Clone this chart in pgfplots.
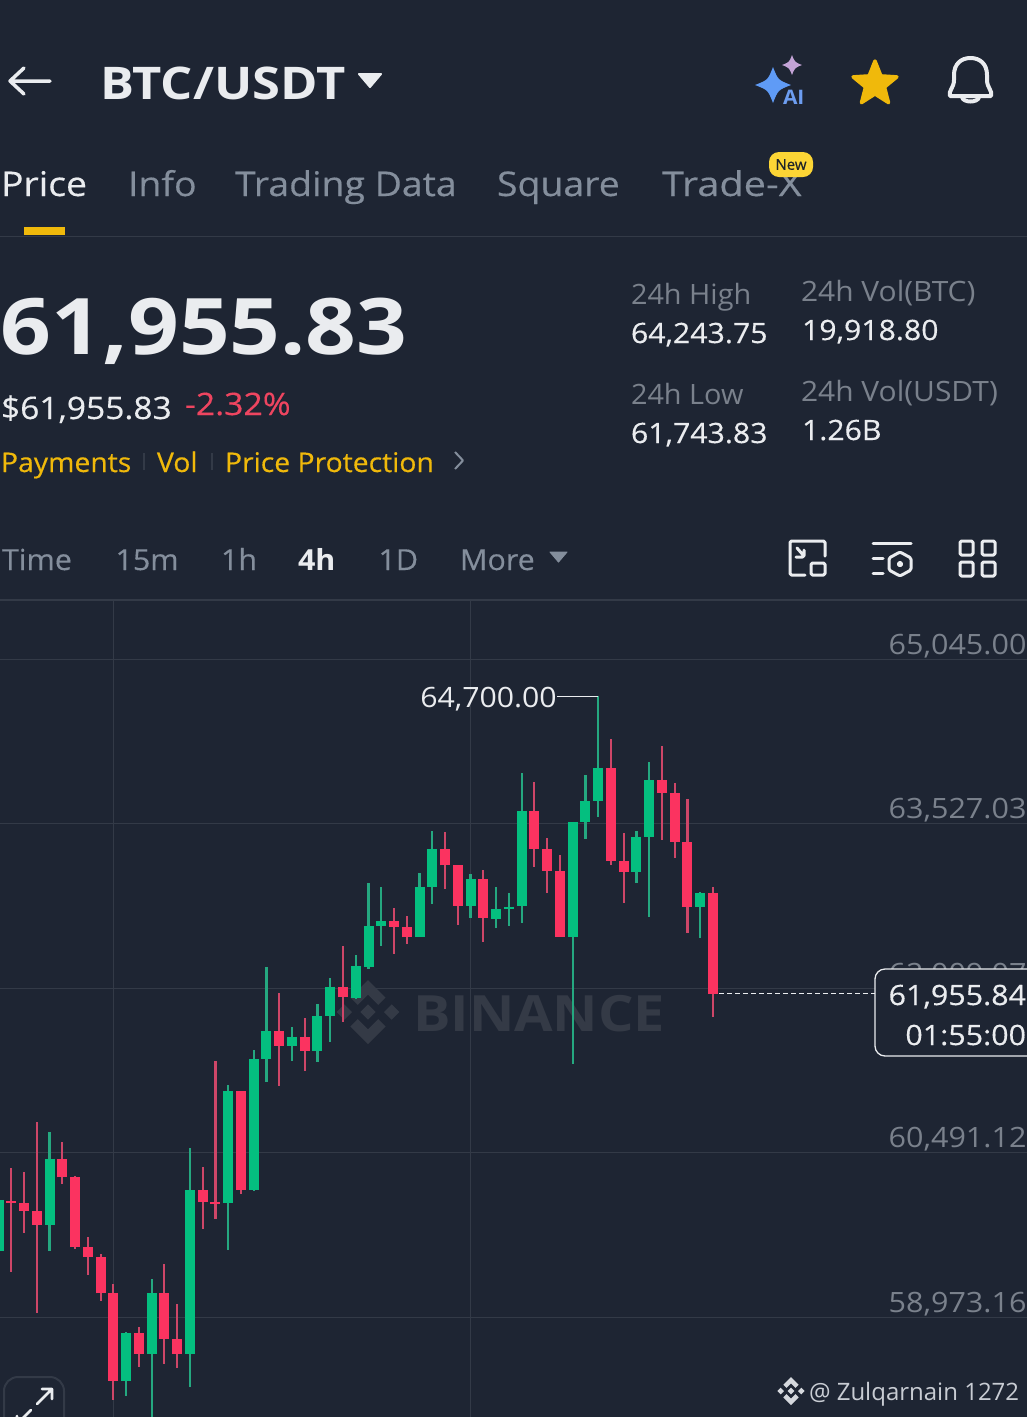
\documentclass[border=0pt]{standalone}
\usepackage{graphicx}
\usepackage{pgfplots}
\usepackage{pgfplotstable}
\usepackage{fontspec}
\pgfplotsset{compat=1.18}
\setmainfont{Open Sans}
\newfontfamily\med[FakeBold=0.35]{Open Sans}
\definecolor{bg}{HTML}{1E2533}
\definecolor{gridc}{HTML}{333A47}
\definecolor{wm}{HTML}{343A46}
\definecolor{wht}{HTML}{EAECEF}
\definecolor{gry}{HTML}{848E9C}
\definecolor{gryb}{HTML}{7A818C}
\definecolor{ylw}{HTML}{F0B90B}
\definecolor{upb}{HTML}{04BF7F}
\definecolor{upw}{HTML}{25A880}
\definecolor{dnb}{HTML}{FB3360}
\definecolor{dnw}{HTML}{CE4668}
\definecolor{txtred}{HTML}{EE4560}
\definecolor{spA}{HTML}{5F9BF6}
\definecolor{spB}{HTML}{C3A3D6}
\definecolor{spC}{HTML}{6D9DF0}
\definecolor{badge}{HTML}{FCD535}
\definecolor{badgetxt}{HTML}{1E2329}
\definecolor{logoc}{HTML}{D5D8DD}
\definecolor{foot}{HTML}{C8CCD3}
\pgfplotstableread{
k o h l c
0 59585 60348 58927 60053
4 59825 60683 59585 60434
10 58385 58838 58247 58823
12 58632 59321 57930 59197
15 58630 60533 58330 60145
18 60028 61117 59591 61056
20 60145 61437 60136 61354
21 61357 62200 61144 61612
23 61477 61652 61338 61560
25 61430 61861 61329 61751
26 61751 62099 61508 62021
28 61914 62314 61908 62212
29 62206 62981 62184 62581
30 62581 62944 62399 62625
33 62477 63073 62477 62944
34 62944 63458 62781 63292
37 62766 63058 62657 63015
39 62650 62938 62565 62738
40 62741 62883 62584 62759
41 62766 63990 62606 63645
45 62480 63541 61305 63541
46 63541 63972 63384 63734
47 63734 64700 63584 64039
50 63079 63460 62981 63405
51 63405 64097 62667 63928
55 62759 62895 62473 62888
}\upT
\pgfplotstableread{
k o h l c
1 60046 60345 59391 60028
2 60028 60308 59745 59954
3 59954 60775 59007 59825
5 60434 60585 60198 60262
6 60262 60277 59603 59622
7 59622 59714 59361 59530
8 59530 59552 59124 59192
9 59192 59278 58207 58385
11 58823 58878 58515 58632
13 59197 59459 58539 58770
14 58770 59093 58505 58630
16 60145 60355 59788 60031
17 60031 61335 59877 60016
19 61056 61060 60105 60145
22 61612 61960 61107 61477
24 61560 61732 61246 61430
27 62021 62397 61698 61923
31 62625 62747 62323 62575
32 62575 62673 62415 62477
35 63292 63446 62925 63141
36 63141 63141 62590 62766
38 63015 63098 62436 62657
42 63645 63912 63128 63292
43 63292 63396 62888 63089
44 63089 63236 62480 62480
48 64039 64306 63144 63184
49 63184 63442 62796 63079
52 63928 64242 63375 63811
53 63811 63898 63211 63359
54 63359 63756 62519 62759
56 62884 62938 61744 61955.83
}\dnT
\newcommand{\xs}{1}
\newcommand{\T}[6][base west]{\node[anchor=#1,inner sep=0pt,outer sep=0pt,text=#5] at (#2,#3) {\scalebox{\xs}[1]{\fontsize{#4}{#4}\selectfont #6}};}
\newcommand{\yl}[1]{\scalebox{1.09}[1]{#1}}
\newcommand{\binlogo}[4]{%
\begin{scope}[shift={(#1,#2)},x=#3pt,y=#3pt]
\fill[#4] (0,1)--(0.55,0.45)--(0.32,0.22)--(0,0.54)--(-0.32,0.22)--(-0.55,0.45)--cycle;
\fill[#4] (0,-1)--(0.55,-0.45)--(0.32,-0.22)--(0,-0.54)--(-0.32,-0.22)--(-0.55,-0.45)--cycle;
\fill[#4] (0,0.24)--(0.24,0)--(0,-0.24)--(-0.24,0)--cycle;
\fill[#4] (-0.74,0.24)--(-0.5,0)--(-0.74,-0.24)--(-0.98,0)--cycle;
\fill[#4] (0.74,0.24)--(0.5,0)--(0.74,-0.24)--(0.98,0)--cycle;
\end{scope}}
\newcommand{\spark}[4]{%
\fill[#4] (#1,#2-#3) .. controls (#1+0.28*#3,#2-0.28*#3) .. (#1+#3,#2) .. controls (#1+0.28*#3,#2+0.28*#3) .. (#1,#2+#3) .. controls (#1-0.28*#3,#2+0.28*#3) .. (#1-#3,#2) .. controls (#1-0.28*#3,#2-0.28*#3) .. cycle;}
\begin{document}
\begin{tikzpicture}[x=1pt,y=-1pt]
\clip (0,0) rectangle (1027,1417);
\fill[bg] (0,0) rectangle (1027,1417);
% header
\draw[wht,line width=3.5pt,line cap=round,line join=round] (50,81)--(10,81) (24,68)--(10,81)--(24,94);
\renewcommand{\xs}{1.125}
\T{100}{99}{45}{wht}{\bfseries BTC/USDT}
\fill[wht,draw=wht,line width=2pt,line join=round] (359,74)--(381,74)--(370,87)--cycle;
\spark{773}{85}{18}{spA}
\spark{792}{65}{10}{spB}
\renewcommand{\xs}{1.05}
\T{783}{104}{20}{spC}{\bfseries AI}
\fill[ylw,draw=ylw,line width=3.5pt,line join=round] (875,61)--(880.9,75.9)--(896.9,76.9)--(884.5,87.1)--(888.5,102.6)--(875,94)--(861.5,102.6)--(865.5,87.1)--(853.1,76.9)--(869.1,75.9)--cycle;
\draw[wht,line width=4pt,line join=round] (950,96)--(991,96) .. controls (993,91) and (987,88) .. (987,80)--(987,75) .. controls (987,64) and (980,58) .. (970.5,58) .. controls (961,58) and (954,64) .. (954,75)--(954,80) .. controls (954,88) and (948,91) .. (950,96)--cycle;
\draw[wht,line width=4pt] (962,97) .. controls (963,103) and (978,103) .. (979,97);
% tabs
\renewcommand{\xs}{1.1}
\T{1}{196}{34}{wht}{\med Price}
\T{128}{196}{34}{gry}{\med Info}
\T{235}{196}{34}{gry}{\med Trading Data}
\T{497}{196}{34}{gry}{\med Square}
\renewcommand{\xs}{1.166}
\T{662}{196}{34}{gry}{\med Trade-X}
\fill[badge,rounded corners=10pt] (769,152) rectangle (813,177);
\node[inner sep=0pt,text=badgetxt] at (791,164.5) {\fontsize{15}{15}\selectfont \med New};
\fill[ylw] (24,227) rectangle (65,235);
\draw[gridc,line width=1pt] (0,236)--(1027,236);
% price block
\renewcommand{\xs}{1.14}
\T{1}{354}{78}{wht}{\bfseries 61,955.83}
\renewcommand{\xs}{1.083}
\T{1}{419}{31}{wht}{\med\$61,955.83}
\renewcommand{\xs}{1.09}
\T{185}{415}{31}{txtred}{\med -2.32\%}
\renewcommand{\xs}{1.05}
\T{1}{472}{27}{ylw}{\med Payments}
\T{157}{472}{27}{ylw}{\med Vol}
\T{225}{472}{27}{ylw}{\med Price Protection}
\draw[gridc,line width=1.5pt] (144,453)--(144,470) (212,453)--(212,470);
\draw[gry,line width=2pt,line join=round] (455,452)--(463,460.5)--(455,469);
\renewcommand{\xs}{1.03}
\T{631}{304}{28}{gryb}{24h High}
\T{631}{404}{28}{gryb}{24h Low}
\renewcommand{\xs}{1.07}
\T{801}{301}{28}{gryb}{24h Vol(BTC)}
\T{801}{401}{28}{gryb}{24h Vol(USDT)}
\renewcommand{\xs}{1.08}
\T{631}{343}{28}{wht}{\med 64,243.75}
\T{631}{443}{28}{wht}{\med 61,743.83}
\T{802}{340}{28}{wht}{\med 19,918.80}
\T{802}{440}{28}{wht}{\med 1.26B}
% period row
\renewcommand{\xs}{1.05}
\T{2}{570}{29}{gry}{\med Time}
\T{115.5}{570}{29}{gry}{\med 15m}
\T{221}{570}{29}{gry}{\med 1h}
\T{298}{570}{29}{wht}{\bfseries 4h}
\T{378.5}{570}{29}{gry}{\med 1D}
\T{460}{570}{29}{gry}{\med More}
\fill[gry,draw=gry,line width=1pt,line join=round] (550,552)--(567,552)--(558.5,562)--cycle;
\begin{scope}[wht,line width=3pt,line join=round,line cap=round,rounded corners=1.5pt]
\draw (805,575)--(790,575)--(790,541)--(825,541)--(825,556);
\draw (811,563) rectangle (825,575);
\draw (797,548)--(804,556) (796,557)--(804,557)--(804,550);
\draw (873,543)--(911,543) (873,558)--(883,558) (873,573)--(883,573);
\draw (900,552)--(911,558)--(911,570)--(900,576)--(889,570)--(889,558)--cycle;
\fill (900,560)--(904,564)--(900,568)--(896,564)--cycle;
\draw (960,541) rectangle (973,555) (982,541) rectangle (995,555) (960,562) rectangle (973,576) (982,562) rectangle (995,576);
\end{scope}
\draw[gridc,line width=1.5pt] (0,600)--(1027,600);
% watermark
\binlogo{368}{1012}{32}{wm}
\renewcommand{\xs}{1.117}
\T{413}{1031}{50}{wm}{\bfseries BINANCE}
% chart
\coordinate (A) at (0,1417);
\begin{axis}[
  at={(A)},anchor=south west,
  scale only axis,width=1027pt,height=817pt,
  xmin=0.1144,xmax=80.61,
  ymin=58050.3,ymax=65589.4,
  axis line style={draw=none},
  major tick length=0pt,
  scaled y ticks=false,
  xtick={9,37},xticklabels={},
  ytick={58973.16,60491.12,62009.07,63527.03,65045},
  yticklabels={{\yl{58,973.16}},{\yl{60,491.12}},{\yl{62,009.07}},{\yl{63,527.03}},{\yl{65,045.00}}},
  yticklabel pos=right,
  yticklabel style={anchor=east,xshift=3pt,yshift=13pt,text=gryb,font=\fontsize{28}{28}\selectfont},
  grid=major,
  major grid style={gridc,line width=1pt},
]
\addplot[draw=none,forget plot,error bars/.cd,y dir=both,y explicit,error mark=none,error bar style={upw,line width=2.2pt}]
 table[x=k,y=c,y error plus expr=\thisrow{h}-\thisrow{c},y error minus expr=\thisrow{c}-\thisrow{l}] {\upT};
\addplot[draw=none,forget plot,error bars/.cd,y dir=both,y explicit,error mark=none,error bar style={dnw,line width=2.2pt}]
 table[x=k,y=c,y error plus expr=\thisrow{h}-\thisrow{c},y error minus expr=\thisrow{c}-\thisrow{l}] {\dnT};
\addplot[draw=none,forget plot,error bars/.cd,y dir=minus,y explicit,error mark=none,error bar style={upb,line width=10pt}]
 table[x=k,y=c,y error minus expr=\thisrow{c}-\thisrow{o}] {\upT};
\addplot[draw=none,forget plot,error bars/.cd,y dir=plus,y explicit,error mark=none,error bar style={dnb,line width=10pt}]
 table[x=k,y=c,y error plus expr=\thisrow{o}-\thisrow{c}] {\dnT};
\addplot[wht,line width=1pt,forget plot] coordinates {(43.77,64700) (47,64700)};
\addplot[wht,line width=1.2pt,dash pattern=on 5pt off 3pt,forget plot] coordinates {(56.5,61955.83) (68.7,61955.83)};
\node[anchor=east,inner sep=0pt,text=wht,yshift=-3pt] at (axis cs:43.77,64700) {\scalebox{1.08}[1]{\fontsize{28}{28}\selectfont 64,700.00}};
\end{axis}
% last price box
\fill[bg] (875,969) rectangle (1040,1056);
\draw[wht,line width=1.3pt,rounded corners=10pt] (875,969) rectangle (1050,1056);
\renewcommand{\xs}{1.087}
\T[base east]{1026}{1005}{28}{wht}{\med 61,955.84}
\T[base east]{1026}{1045}{28}{wht}{\med 01:55:00}
% expand button
\draw[gridc,line width=2pt,rounded corners=14pt] (4,1440)--(4,1377)--(64,1377)--(64,1440);
\draw[wht,line width=2.6pt,line cap=round,line join=round] (37,1404)--(52,1389) (42,1389)--(52,1389)--(52,1399) (31,1410)--(16,1425) (17,1416)--(16,1425)--(26,1425);
% footer
\binlogo{791}{1391}{14}{logoc}
\renewcommand{\xs}{1}
\T{809}{1400}{24}{foot}{@ Zulqarnain 1272}
\end{tikzpicture}
\end{document}
